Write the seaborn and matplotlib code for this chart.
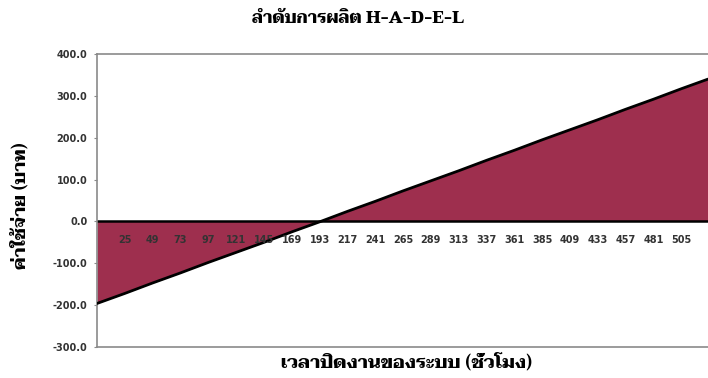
import os
import matplotlib
matplotlib.use("Agg")
import matplotlib.pyplot as plt
from matplotlib import font_manager
from matplotlib.font_manager import FontProperties
import seaborn as sns
import pandas as pd

# Hours since the system was shut down, and the cost in baht at each of them
hours = [1, 25, 49, 73, 97, 121, 145, 169, 193, 217, 241, 265, 289, 313,
         337, 361, 385, 409, 433, 457, 481, 505, 528]
costs = [-196, -172, -147, -123, -98, -74, -50, -25, -1, 24, 48, 73, 97,
         121, 146, 170, 195, 219, 243, 268, 292, 317, 340]
tick_hours = [25, 49, 73, 97, 121, 145, 169, 193, 217, 241, 265, 289, 313,
              337, 361, 385, 409, 433, 457, 481, 505]
y_ticks = [-300, -200, -100, 0, 100, 200, 300, 400]

title = "ลำดับการผลิต H-A-D-E-L"
x_label = "เวลาปิดงานของระบบ (ชั่วโมง)"
y_label = "ค่าใช้จ่าย (บาท)"

FILL = "#9e2f4e"
BORDER = "#8a8a8a"
TICK_TXT = "#333333"


def thai_font():
    wanted = ["Taviraj-ExtraBold.ttf", "Taviraj-Bold.ttf", "Trirong-Bold.ttf",
              "Pridi-SemiBold.ttf", "Sarabun-Bold.ttf"]
    paths = font_manager.findSystemFonts()
    by_name = {os.path.basename(p): p for p in paths}
    for w in wanted:
        if w in by_name:
            return FontProperties(fname=by_name[w])
    return FontProperties(family="DejaVu Sans", weight="bold")


sns.set_theme(style="white")
plt.rcParams["font.family"] = ["DejaVu Sans"]

df = pd.DataFrame({"hour": hours, "cost": costs})

W, H = 708, 378
fig = plt.figure(figsize=(W / 100, H / 100), dpi=100)
ax = fig.add_axes([97 / W, 1 - 347 / H, 1 - 97 / W, (347 - 54) / H])

ax.fill_between(df["hour"], df["cost"], 0, color=FILL, linewidth=0, zorder=1)
sns.lineplot(data=df, x="hour", y="cost", ax=ax, color="black",
             linewidth=2.0, zorder=3)
ax.axhline(0, color="black", linewidth=1.8, zorder=2)

ax.set_xlim(1, 528)
ax.set_ylim(-300, 400)
ax.set_xticks([])
ax.set_yticks(y_ticks)
ax.set_yticklabels([f"{v:.1f}" for v in y_ticks], fontsize=7,
                   fontweight="bold", color=TICK_TXT)
ax.tick_params(axis="y", length=2, width=0.8, color=BORDER, pad=5, left=True)
ax.set_xlabel("")
ax.set_ylabel("")

for side in ("left", "top", "bottom"):
    ax.spines[side].set_color(BORDER)
    ax.spines[side].set_linewidth(1.2)
ax.spines["right"].set_visible(False)

# category labels sit just under the zero line, inside the plot
for h in tick_hours:
    ax.text(h, -45, str(h), ha="center", va="center", fontsize=7,
            fontweight="bold", color=TICK_TXT, zorder=4)

tf = thai_font()
renderer = fig.canvas.get_renderer()


def fitted(x, y, s, target, rotation=0):
    t = fig.text(x / W, 1 - y / H, s, fontproperties=tf, ha="center",
                 va="center", rotation=rotation, color="black")
    t.set_fontsize(12)
    bb = t.get_window_extent(renderer)
    size = bb.height if rotation else bb.width
    t.set_fontsize(12 * target / size)
    return t


fitted(358, 18, title, 212)
fitted(407, 362, x_label, 250)
fitted(20, 206, y_label, 126, rotation=90)

fig.savefig("out.png", dpi=100)
